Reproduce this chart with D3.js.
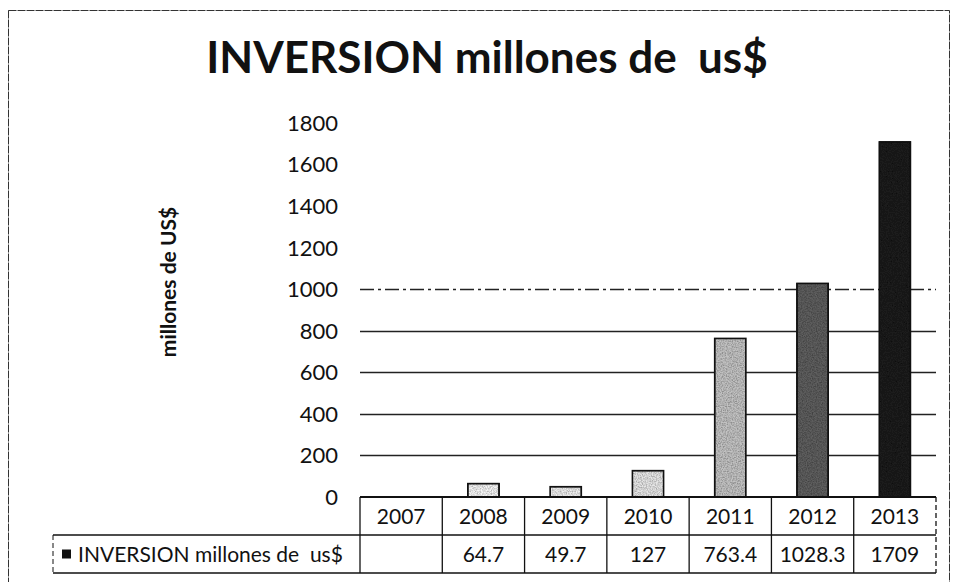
<!DOCTYPE html>
<html>
<head>
<meta charset="utf-8">
<script src="https://cdn.jsdelivr.net/npm/d3@7"></script>
<style>
  body { margin: 0; background: #fff; }
  text { font-family: Lato, "Open Sans", sans-serif; fill: #111; }
</style>
</head>
<body>
<svg id="chart"></svg>
<script>
// values
const years = ["2007", "2008", "2009", "2010", "2011", "2012", "2013"];
const inversion = [null, 64.7, 49.7, 127, 763.4, 1028.3, 1709];
const valueLabels = ["", "64.7", "49.7", "127", "763.4", "1028.3", "1709"];
const yTicks = [0, 200, 400, 600, 800, 1000, 1200, 1400, 1600, 1800];
const seriesName = "INVERSION millones de  us$";
const yTitle = "millones de US$";

const width = 956;
const height = 582;
const plot = { left: 360, right: 936, top: 123, bottom: 497 };
const rowH = 38;

// bars go from pale to nearly black, like the original gradient fill
const barColor = d3.scaleLinear()
  .domain([1, 3, 4, 5, 6])
  .range(["#f5f5f5", "#e6e6e6", "#c2c2c2", "#5e5e5e", "#1c1c1c"]);

const svg = d3.select("#chart")
  .attr("width", width)
  .attr("height", height);

// scanner grain on the bars
const grain = svg.append("defs").append("filter")
  .attr("id", "grain")
  .attr("x", 0).attr("y", 0).attr("width", 1).attr("height", 1);
grain.append("feTurbulence")
  .attr("type", "fractalNoise")
  .attr("baseFrequency", 0.8)
  .attr("numOctaves", 2)
  .attr("seed", 3)
  .attr("result", "noise");
grain.append("feColorMatrix")
  .attr("in", "noise")
  .attr("type", "matrix")
  .attr("values", "0 0 0 0 0.5  0 0 0 0 0.5  0 0 0 0 0.5  0 0 0 -2.2 1.5")
  .attr("result", "specks");
grain.append("feComposite")
  .attr("in", "specks").attr("in2", "SourceGraphic")
  .attr("operator", "in").attr("result", "clipped");
grain.append("feBlend")
  .attr("in", "clipped").attr("in2", "SourceGraphic")
  .attr("mode", "multiply");

// outer frame of the chart (bottom runs past the page)
svg.append("rect")
  .attr("x", 8.5).attr("y", 10.5)
  .attr("width", 941).attr("height", 620)
  .attr("fill", "none")
  .attr("stroke", "#333")
  .attr("stroke-width", 1)
  .attr("stroke-dasharray", "8,1");

svg.append("text")
  .attr("x", 487).attr("y", 73)
  .attr("text-anchor", "middle")
  .attr("font-size", 44)
  .attr("font-weight", "bold")
  .style("white-space", "pre")
  .text(seriesName);

const x = d3.scaleBand()
  .domain(years)
  .range([plot.left, plot.right])
  .paddingInner(0.62)
  .paddingOuter(0.31);

const y = d3.scaleLinear()
  .domain([0, 1800])
  .range([plot.bottom, plot.top]);

// gridlines (the upper ones were lost in the scan)
svg.append("g")
  .selectAll("line")
  .data(yTicks.filter((t) => t > 0 && t <= 1000))
  .join("line")
  .attr("x1", plot.left).attr("x2", plot.right)
  .attr("y1", (d) => Math.round(y(d)) + 0.5)
  .attr("y2", (d) => Math.round(y(d)) + 0.5)
  .attr("stroke", "#222")
  .attr("stroke-width", 1.4)
  .attr("stroke-dasharray", (d) => (d === 1000 ? "14,4,3,4" : null));

// y tick labels
svg.append("g")
  .selectAll("text")
  .data(yTicks)
  .join("text")
  .attr("x", 338)
  .attr("y", (d) => y(d))
  .attr("dy", "0.36em")
  .attr("text-anchor", "end")
  .attr("font-size", 22)
  .text((d) => d);

svg.append("text")
  .attr("transform", "translate(176,282) rotate(-90)")
  .attr("text-anchor", "middle")
  .attr("font-size", 21)
  .attr("font-weight", "bold")
  .text(yTitle);

// bars
svg.append("g")
  .selectAll("rect")
  .data(years.map((yr, i) => ({ yr, v: inversion[i], i })).filter((d) => d.v != null))
  .join("rect")
  .attr("x", (d) => x(d.yr))
  .attr("width", x.bandwidth())
  .attr("y", (d) => y(d.v))
  .attr("height", (d) => y(0) - y(d.v))
  .attr("fill", (d) => barColor(d.i))
  .attr("filter", "url(#grain)")
  .attr("stroke", "#111")
  .attr("stroke-width", 1.5);

svg.append("g")
  .selectAll("rect")
  .data(years.map((yr, i) => ({ yr, v: inversion[i] })).filter((d) => d.v != null))
  .join("rect")
  .attr("x", (d) => x(d.yr))
  .attr("width", x.bandwidth())
  .attr("y", (d) => y(d.v))
  .attr("height", (d) => y(0) - y(d.v))
  .attr("fill", "none")
  .attr("stroke", "#111")
  .attr("stroke-width", 1.5);

// data table under the plot
const colW = (plot.right - plot.left) / years.length;
const table = svg.append("g").attr("stroke", "#111").attr("fill", "none");

table.append("line")
  .attr("x1", plot.left).attr("x2", plot.right)
  .attr("y1", plot.bottom).attr("y2", plot.bottom)
  .attr("stroke-width", 2);
table.append("line")
  .attr("x1", 53).attr("x2", plot.right)
  .attr("y1", plot.bottom + rowH).attr("y2", plot.bottom + rowH)
  .attr("stroke-width", 1.3);
table.append("line")
  .attr("x1", 53).attr("x2", plot.right)
  .attr("y1", plot.bottom + 2 * rowH).attr("y2", plot.bottom + 2 * rowH)
  .attr("stroke-width", 1.3);
table.selectAll(".col")
  .data(d3.range(years.length + 1))
  .join("line")
  .attr("x1", (i) => plot.left + i * colW)
  .attr("x2", (i) => plot.left + i * colW)
  .attr("y1", plot.bottom)
  .attr("y2", plot.bottom + 2 * rowH)
  .attr("stroke-width", 1.3)
  .attr("stroke-dasharray", (i) => (i === years.length ? "5,3" : null));
table.append("line")
  .attr("x1", 53).attr("x2", 53)
  .attr("y1", plot.bottom + rowH).attr("y2", plot.bottom + 2 * rowH)
  .attr("stroke-width", 1)
  .attr("stroke-dasharray", "5,3");

svg.append("g")
  .selectAll("text")
  .data(years)
  .join("text")
  .attr("x", (d, i) => plot.left + (i + 0.5) * colW)
  .attr("y", plot.bottom + rowH / 2)
  .attr("dy", "0.36em")
  .attr("text-anchor", "middle")
  .attr("font-size", 21)
  .text((d) => d);

svg.append("g")
  .selectAll("text")
  .data(valueLabels)
  .join("text")
  .attr("x", (d, i) => plot.left + (i + 0.5) * colW)
  .attr("y", plot.bottom + rowH * 1.5)
  .attr("dy", "0.36em")
  .attr("text-anchor", "middle")
  .attr("font-size", 21)
  .text((d) => d);

// legend key in the row header
svg.append("rect")
  .attr("x", 62).attr("y", plot.bottom + rowH * 1.5 - 4.5)
  .attr("width", 9).attr("height", 9)
  .attr("fill", "#111");
svg.append("text")
  .attr("x", 78)
  .attr("y", plot.bottom + rowH * 1.5)
  .attr("dy", "0.36em")
  .attr("font-size", 21)
  .style("white-space", "pre")
  .text(seriesName);
</script>
</body>
</html>
